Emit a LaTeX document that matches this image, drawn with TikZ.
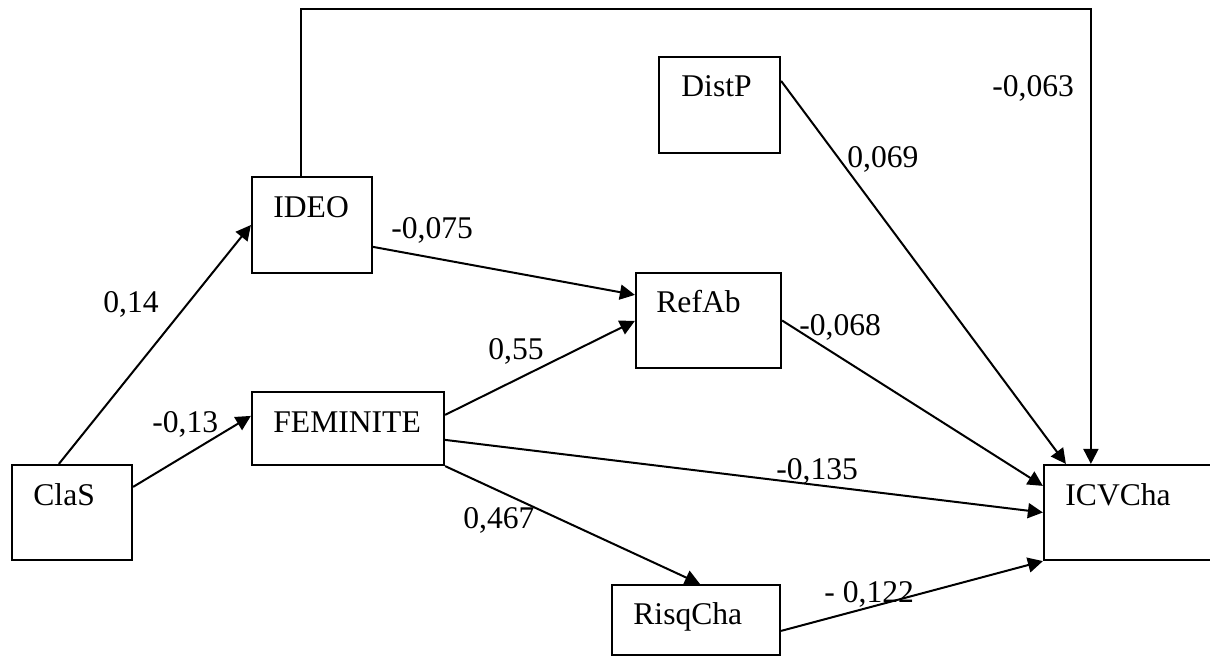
\documentclass[tikz,border=0pt]{standalone}
\usepackage{fontspec}
\setmainfont{Liberation Serif}
\usetikzlibrary{arrows.meta,calc}
\begin{document}
\begin{tikzpicture}[x=0.5pt,y=-0.5pt,
  box/.style={draw, line width=1.1pt, rectangle, inner sep=0pt},
  arr/.style={line width=1pt, -{Triangle[length=7.5pt,width=7.5pt]}},
  lbl/.style={anchor=base west, inner sep=0pt, font=\fontsize{15.8pt}{18pt}\selectfont}]
\useasboundingbox (0,0) rectangle (1210,657);

% variable boxes (coordinates in pixels, y downwards)
\node[box, minimum width=60pt,   minimum height=47.5pt] (clas)  at (72,512.5)   {};
\node[box, minimum width=60pt,   minimum height=48pt]   (ideo)  at (312,225)    {};
\node[box, minimum width=96pt,   minimum height=36.5pt] (fem)   at (348,428.5)  {};
\node[box, minimum width=60.5pt, minimum height=48pt]   (distp) at (719.5,105)  {};
\node[box, minimum width=72.5pt, minimum height=47.5pt] (refab) at (708.5,320.5){};
\node[box, minimum width=84pt,   minimum height=35pt]   (risq)  at (696,620)    {};
\node[box, minimum width=88pt,   minimum height=47.5pt] (icv)   at (1132,512.5) {};

% box captions
\node[lbl] (tclas)  at (33,505)   {ClaS};
\node[lbl] (tideo)  at (273,218)  {IDEO};
\node[lbl] (tfem)   at (273,433)  {FEMINITE};
\node[lbl] (tdistp) at (681,97)   {DistP};
\node[lbl] (trefab) at (656,313)  {RefAb};
\node[lbl] (trisq)  at (633,624)  {RisqCha};
\node[lbl] (ticv)   at (1065,505) {ICVCha};

% paths
\draw[arr] ($(clas.north west)+(48,0)$) -- (ideo.west);
\draw[arr] ($(clas.north east)+(0,23)$) -- ($(fem.north west)+(0,25)$);
\draw[arr] ($(ideo.north east)+(0,71)$) -- ($(refab.north west)+(0,23)$);
\draw[arr] ($(fem.north east)+(0,24)$) -- ($(refab.north west)+(0,49)$);
\draw[arr] ($(fem.north east)+(0,49)$) -- (icv.west);
\draw[arr] (fem.south east) -- ($(risq.north west)+(89,0)$);
\draw[arr] ($(distp.north east)+(0,25)$) -- ($(icv.north west)+(23,0)$);
\draw[arr] (refab.east) -- ($(icv.north west)+(0,22)$);
\draw[arr] ($(risq.north east)+(0,47)$) -- (icv.south west);

\coordinate (toprail) at (0,9);
\coordinate (ideotop) at ($(ideo.north west)+(50,0)$);
\coordinate (icvtop)  at ($(icv.north west)+(48,0)$);
\draw[arr] (ideotop) |- (icvtop |- toprail) -- (icvtop);

% path coefficients
\node[lbl] (c1)  at (103,313) {0,14};
\node[lbl] (c2)  at (152,433) {-0,13};
\node[lbl] (c3)  at (391,239) {-0,075};
\node[lbl] (c4)  at (488,360) {0,55};
\node[lbl] (c5)  at (463,528) {0,467};
\node[lbl] (c6)  at (776,480) {-0,135};
\node[lbl] (c7)  at (824,602) {- 0,122};
\node[lbl] (c8)  at (799,336) {-0,068};
\node[lbl] (c9)  at (847,168) {0,069};
\node[lbl] (c10) at (992,97)  {-0,063};
\end{tikzpicture}
\end{document}
